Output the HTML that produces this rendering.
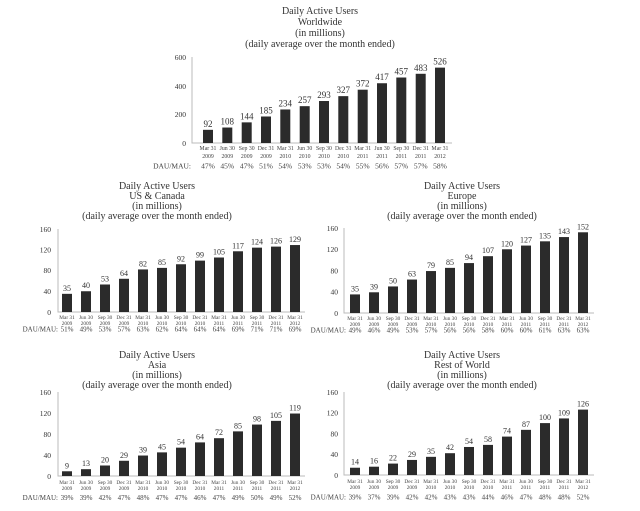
<!DOCTYPE html>
<html><head><meta charset="utf-8"><style>
html,body{margin:0;padding:0;background:#fff}
svg{display:block;font-family:"Liberation Serif",serif;fill:#333}
.t{font-size:10px;text-anchor:middle}
.v{font-size:8px;text-anchor:middle}
.vw{font-size:9px;text-anchor:middle}
.y{font-size:7.5px;text-anchor:end}
.d{font-size:5.3px;text-anchor:middle;fill:#444}
.m{font-size:7px;text-anchor:middle;fill:#444}
.ml{font-size:7px;text-anchor:end;fill:#444}
.ax{stroke:#bbb;stroke-width:1;fill:none}
.b{fill:#2b2b2b}
</style></head><body>
<svg width="640" height="511" viewBox="0 0 640 511" xmlns="http://www.w3.org/2000/svg">
<!-- Worldwide -->
<text class="t" x="320" y="14">Daily Active Users</text>
<text class="t" x="320" y="25">Worldwide</text>
<text class="t" x="320" y="36">(in millions)</text>
<text class="t" x="320" y="47">(daily average over the month ended)</text>
<path class="ax" d="M192 57V143H452"/>
<text class="y" x="186" y="146">0</text><text class="y" x="186" y="117">200</text><text class="y" x="186" y="89">400</text><text class="y" x="186" y="60">600</text>
<g transform="translate(0,143) scale(1,-0.1433)" class="b">
<rect x="203" y="0" width="10" height="92"/><rect x="222.3" y="0" width="10" height="108"/><rect x="241.7" y="0" width="10" height="144"/><rect x="261" y="0" width="10" height="185"/><rect x="280.3" y="0" width="10" height="234"/><rect x="299.7" y="0" width="10" height="257"/><rect x="319" y="0" width="10" height="293"/><rect x="338.3" y="0" width="10" height="327"/><rect x="357.7" y="0" width="10" height="372"/><rect x="377" y="0" width="10" height="417"/><rect x="396.3" y="0" width="10" height="457"/><rect x="415.7" y="0" width="10" height="483"/><rect x="435" y="0" width="10" height="526"/>
</g>
<text class="vw" x="208" y="126.8">92</text><text class="vw" x="227.3" y="124.5">108</text><text class="vw" x="246.7" y="119.4">144</text><text class="vw" x="266" y="113.5">185</text><text class="vw" x="285.3" y="106.5">234</text><text class="vw" x="304.7" y="103.2">257</text><text class="vw" x="324" y="98">293</text><text class="vw" x="343.3" y="93.1">327</text><text class="vw" x="362.7" y="86.7">372</text><text class="vw" x="382" y="80.2">417</text><text class="vw" x="401.3" y="74.5">457</text><text class="vw" x="420.7" y="70.8">483</text><text class="vw" x="440" y="64.6">526</text>
<g class="d" style="font-size:5.8px">
<text x="208" y="150">Mar 31</text><text x="227.3" y="150">Jun 30</text><text x="246.7" y="150">Sep 30</text><text x="266" y="150">Dec 31</text><text x="285.3" y="150">Mar 31</text><text x="304.7" y="150">Jun 30</text><text x="324" y="150">Sep 30</text><text x="343.3" y="150">Dec 31</text><text x="362.7" y="150">Mar 31</text><text x="382" y="150">Jun 30</text><text x="401.3" y="150">Sep 30</text><text x="420.7" y="150">Dec 31</text><text x="440" y="150">Mar 31</text>
<text x="208" y="158">2009</text><text x="227.3" y="158">2009</text><text x="246.7" y="158">2009</text><text x="266" y="158">2009</text><text x="285.3" y="158">2010</text><text x="304.7" y="158">2010</text><text x="324" y="158">2010</text><text x="343.3" y="158">2010</text><text x="362.7" y="158">2011</text><text x="382" y="158">2011</text><text x="401.3" y="158">2011</text><text x="420.7" y="158">2011</text><text x="440" y="158">2012</text>
</g>
<g class="m" style="font-size:7.5px">
<text class="ml" style="font-size:7.5px" x="191" y="168.5">DAU/MAU:</text>
<text x="208" y="168.5">47%</text><text x="227.3" y="168.5">45%</text><text x="246.7" y="168.5">47%</text><text x="266" y="168.5">51%</text><text x="285.3" y="168.5">54%</text><text x="304.7" y="168.5">53%</text><text x="324" y="168.5">53%</text><text x="343.3" y="168.5">54%</text><text x="362.7" y="168.5">55%</text><text x="382" y="168.5">56%</text><text x="401.3" y="168.5">57%</text><text x="420.7" y="168.5">57%</text><text x="440" y="168.5">58%</text>
</g>

<!-- US & Canada -->
<text class="t" x="157" y="189">Daily Active Users</text>
<text class="t" x="157" y="199">US &amp; Canada</text>
<text class="t" x="157" y="209">(in millions)</text>
<text class="t" x="157" y="219">(daily average over the month ended)</text>
<path class="ax" d="M58 229V312H305"/>
<text class="y" x="51" y="315">0</text><text class="y" x="51" y="294">40</text><text class="y" x="51" y="273">80</text><text class="y" x="51" y="252.5">120</text><text class="y" x="51" y="232">160</text>
<g transform="translate(0,312) scale(1,-0.519)" class="b">
<rect x="62" y="0" width="10" height="35"/><rect x="81" y="0" width="10" height="40"/><rect x="100" y="0" width="10" height="53"/><rect x="119" y="0" width="10" height="64"/><rect x="138" y="0" width="10" height="82"/><rect x="157" y="0" width="10" height="85"/><rect x="176" y="0" width="10" height="92"/><rect x="195" y="0" width="10" height="99"/><rect x="214" y="0" width="10" height="105"/><rect x="233" y="0" width="10" height="117"/><rect x="252" y="0" width="10" height="124"/><rect x="271" y="0" width="10" height="126"/><rect x="290" y="0" width="10" height="129"/>
</g>
<text class="v" x="67" y="290.8">35</text><text class="v" x="86" y="288.2">40</text><text class="v" x="105" y="281.5">53</text><text class="v" x="124" y="275.8">64</text><text class="v" x="143" y="266.4">82</text><text class="v" x="162" y="264.9">85</text><text class="v" x="181" y="261.3">92</text><text class="v" x="200" y="257.6">99</text><text class="v" x="219" y="254.5">105</text><text class="v" x="238" y="248.3">117</text><text class="v" x="257" y="244.6">124</text><text class="v" x="276" y="243.6">126</text><text class="v" x="295" y="242">129</text>
<g class="d">
<text x="67" y="319">Mar 31</text><text x="86" y="319">Jun 30</text><text x="105" y="319">Sep 30</text><text x="124" y="319">Dec 31</text><text x="143" y="319">Mar 31</text><text x="162" y="319">Jun 30</text><text x="181" y="319">Sep 30</text><text x="200" y="319">Dec 31</text><text x="219" y="319">Mar 31</text><text x="238" y="319">Jun 30</text><text x="257" y="319">Sep 30</text><text x="276" y="319">Dec 31</text><text x="295" y="319">Mar 31</text>
<text x="67" y="325">2009</text><text x="86" y="325">2009</text><text x="105" y="325">2009</text><text x="124" y="325">2009</text><text x="143" y="325">2010</text><text x="162" y="325">2010</text><text x="181" y="325">2010</text><text x="200" y="325">2010</text><text x="219" y="325">2011</text><text x="238" y="325">2011</text><text x="257" y="325">2011</text><text x="276" y="325">2011</text><text x="295" y="325">2012</text>
</g>
<g class="m">
<text class="ml" x="58" y="331.5">DAU/MAU:</text>
<text x="67" y="331.5">51%</text><text x="86" y="331.5">49%</text><text x="105" y="331.5">53%</text><text x="124" y="331.5">57%</text><text x="143" y="331.5">63%</text><text x="162" y="331.5">62%</text><text x="181" y="331.5">64%</text><text x="200" y="331.5">64%</text><text x="219" y="331.5">64%</text><text x="238" y="331.5">69%</text><text x="257" y="331.5">71%</text><text x="276" y="331.5">71%</text><text x="295" y="331.5">69%</text>
</g>

<!-- Europe -->
<text class="t" x="462" y="189">Daily Active Users</text>
<text class="t" x="462" y="199">Europe</text>
<text class="t" x="462" y="209">(in millions)</text>
<text class="t" x="462" y="219">(daily average over the month ended)</text>
<path class="ax" d="M344 228V313H594"/>
<text class="y" x="338" y="316">0</text><text class="y" x="338" y="294.5">40</text><text class="y" x="338" y="273.5">80</text><text class="y" x="338" y="252">120</text><text class="y" x="338" y="231">160</text>
<g transform="translate(0,313) scale(1,-0.531)" class="b">
<rect x="350" y="0" width="10" height="35"/><rect x="369" y="0" width="10" height="39"/><rect x="388" y="0" width="10" height="50"/><rect x="407" y="0" width="10" height="63"/><rect x="426" y="0" width="10" height="79"/><rect x="445" y="0" width="10" height="85"/><rect x="464" y="0" width="10" height="94"/><rect x="483" y="0" width="10" height="107"/><rect x="502" y="0" width="10" height="120"/><rect x="521" y="0" width="10" height="127"/><rect x="540" y="0" width="10" height="135"/><rect x="559" y="0" width="10" height="143"/><rect x="578" y="0" width="10" height="152"/>
</g>
<text class="v" x="355" y="291.4">35</text><text class="v" x="374" y="289.3">39</text><text class="v" x="393" y="283.4">50</text><text class="v" x="412" y="276.5">63</text><text class="v" x="431" y="268.1">79</text><text class="v" x="450" y="264.9">85</text><text class="v" x="469" y="260.1">94</text><text class="v" x="488" y="253.2">107</text><text class="v" x="507" y="246.3">120</text><text class="v" x="526" y="242.6">127</text><text class="v" x="545" y="238.3">135</text><text class="v" x="564" y="234.1">143</text><text class="v" x="583" y="229.3">152</text>
<g class="d">
<text x="355" y="320">Mar 31</text><text x="374" y="320">Jun 30</text><text x="393" y="320">Sep 30</text><text x="412" y="320">Dec 31</text><text x="431" y="320">Mar 31</text><text x="450" y="320">Jun 30</text><text x="469" y="320">Sep 30</text><text x="488" y="320">Dec 31</text><text x="507" y="320">Mar 31</text><text x="526" y="320">Jun 30</text><text x="545" y="320">Sep 30</text><text x="564" y="320">Dec 31</text><text x="583" y="320">Mar 31</text>
<text x="355" y="326">2009</text><text x="374" y="326">2009</text><text x="393" y="326">2009</text><text x="412" y="326">2009</text><text x="431" y="326">2010</text><text x="450" y="326">2010</text><text x="469" y="326">2010</text><text x="488" y="326">2010</text><text x="507" y="326">2011</text><text x="526" y="326">2011</text><text x="545" y="326">2011</text><text x="564" y="326">2011</text><text x="583" y="326">2012</text>
</g>
<g class="m">
<text class="ml" x="346" y="332.5">DAU/MAU:</text>
<text x="355" y="332.5">49%</text><text x="374" y="332.5">46%</text><text x="393" y="332.5">49%</text><text x="412" y="332.5">53%</text><text x="431" y="332.5">57%</text><text x="450" y="332.5">56%</text><text x="469" y="332.5">56%</text><text x="488" y="332.5">58%</text><text x="507" y="332.5">60%</text><text x="526" y="332.5">60%</text><text x="545" y="332.5">61%</text><text x="564" y="332.5">63%</text><text x="583" y="332.5">63%</text>
</g>

<!-- Asia -->
<text class="t" x="157" y="358">Daily Active Users</text>
<text class="t" x="157" y="368">Asia</text>
<text class="t" x="157" y="378">(in millions)</text>
<text class="t" x="157" y="388">(daily average over the month ended)</text>
<path class="ax" d="M58 392V476H305"/>
<text class="y" x="51" y="479">0</text><text class="y" x="51" y="458">40</text><text class="y" x="51" y="437">80</text><text class="y" x="51" y="416">120</text><text class="y" x="51" y="395">160</text>
<g transform="translate(0,476) scale(1,-0.525)" class="b">
<rect x="62" y="0" width="10" height="9"/><rect x="81" y="0" width="10" height="13"/><rect x="100" y="0" width="10" height="20"/><rect x="119" y="0" width="10" height="29"/><rect x="138" y="0" width="10" height="39"/><rect x="157" y="0" width="10" height="45"/><rect x="176" y="0" width="10" height="54"/><rect x="195" y="0" width="10" height="64"/><rect x="214" y="0" width="10" height="72"/><rect x="233" y="0" width="10" height="85"/><rect x="252" y="0" width="10" height="98"/><rect x="271" y="0" width="10" height="105"/><rect x="290" y="0" width="10" height="119"/>
</g>
<text class="v" x="67" y="468.3">9</text><text class="v" x="86" y="466.2">13</text><text class="v" x="105" y="462.5">20</text><text class="v" x="124" y="457.8">29</text><text class="v" x="143" y="452.5">39</text><text class="v" x="162" y="449.4">45</text><text class="v" x="181" y="444.6">54</text><text class="v" x="200" y="439.4">64</text><text class="v" x="219" y="435.2">72</text><text class="v" x="238" y="428.4">85</text><text class="v" x="257" y="421.6">98</text><text class="v" x="276" y="417.9">105</text><text class="v" x="295" y="410.5">119</text>
<g class="d">
<text x="67" y="484">Mar 31</text><text x="86" y="484">Jun 30</text><text x="105" y="484">Sep 30</text><text x="124" y="484">Dec 31</text><text x="143" y="484">Mar 31</text><text x="162" y="484">Jun 30</text><text x="181" y="484">Sep 30</text><text x="200" y="484">Dec 31</text><text x="219" y="484">Mar 31</text><text x="238" y="484">Jun 30</text><text x="257" y="484">Sep 30</text><text x="276" y="484">Dec 31</text><text x="295" y="484">Mar 31</text>
<text x="67" y="490">2009</text><text x="86" y="490">2009</text><text x="105" y="490">2009</text><text x="124" y="490">2009</text><text x="143" y="490">2010</text><text x="162" y="490">2010</text><text x="181" y="490">2010</text><text x="200" y="490">2010</text><text x="219" y="490">2011</text><text x="238" y="490">2011</text><text x="257" y="490">2011</text><text x="276" y="490">2011</text><text x="295" y="490">2012</text>
</g>
<g class="m">
<text class="ml" x="58" y="500">DAU/MAU:</text>
<text x="67" y="500">39%</text><text x="86" y="500">39%</text><text x="105" y="500">42%</text><text x="124" y="500">47%</text><text x="143" y="500">48%</text><text x="162" y="500">47%</text><text x="181" y="500">47%</text><text x="200" y="500">46%</text><text x="219" y="500">47%</text><text x="238" y="500">49%</text><text x="257" y="500">50%</text><text x="276" y="500">49%</text><text x="295" y="500">52%</text>
</g>

<!-- Rest of World -->
<text class="t" x="462" y="358">Daily Active Users</text>
<text class="t" x="462" y="368">Rest of World</text>
<text class="t" x="462" y="378">(in millions)</text>
<text class="t" x="462" y="388">(daily average over the month ended)</text>
<path class="ax" d="M344 392V475H594"/>
<text class="y" x="338" y="478">0</text><text class="y" x="338" y="457">40</text><text class="y" x="338" y="436.5">80</text><text class="y" x="338" y="415.5">120</text><text class="y" x="338" y="395">160</text>
<g transform="translate(0,475) scale(1,-0.519)" class="b">
<rect x="350" y="0" width="10" height="14"/><rect x="369" y="0" width="10" height="16"/><rect x="388" y="0" width="10" height="22"/><rect x="407" y="0" width="10" height="29"/><rect x="426" y="0" width="10" height="35"/><rect x="445" y="0" width="10" height="42"/><rect x="464" y="0" width="10" height="54"/><rect x="483" y="0" width="10" height="58"/><rect x="502" y="0" width="10" height="74"/><rect x="521" y="0" width="10" height="87"/><rect x="540" y="0" width="10" height="100"/><rect x="559" y="0" width="10" height="109"/><rect x="578" y="0" width="10" height="126"/>
</g>
<text class="v" x="355" y="464.7">14</text><text class="v" x="374" y="463.7">16</text><text class="v" x="393" y="460.6">22</text><text class="v" x="412" y="456.9">29</text><text class="v" x="431" y="453.8">35</text><text class="v" x="450" y="450.2">42</text><text class="v" x="469" y="444">54</text><text class="v" x="488" y="441.9">58</text><text class="v" x="507" y="433.6">74</text><text class="v" x="526" y="426.8">87</text><text class="v" x="545" y="420.1">100</text><text class="v" x="564" y="415.4">109</text><text class="v" x="583" y="406.6">126</text>
<g class="d">
<text x="355" y="483">Mar 31</text><text x="374" y="483">Jun 30</text><text x="393" y="483">Sep 30</text><text x="412" y="483">Dec 31</text><text x="431" y="483">Mar 31</text><text x="450" y="483">Jun 30</text><text x="469" y="483">Sep 30</text><text x="488" y="483">Dec 31</text><text x="507" y="483">Mar 31</text><text x="526" y="483">Jun 30</text><text x="545" y="483">Sep 30</text><text x="564" y="483">Dec 31</text><text x="583" y="483">Mar 31</text>
<text x="355" y="489">2009</text><text x="374" y="489">2009</text><text x="393" y="489">2009</text><text x="412" y="489">2009</text><text x="431" y="489">2010</text><text x="450" y="489">2010</text><text x="469" y="489">2010</text><text x="488" y="489">2010</text><text x="507" y="489">2011</text><text x="526" y="489">2011</text><text x="545" y="489">2011</text><text x="564" y="489">2011</text><text x="583" y="489">2012</text>
</g>
<g class="m">
<text class="ml" x="346" y="499.5">DAU/MAU:</text>
<text x="355" y="499.5">39%</text><text x="374" y="499.5">37%</text><text x="393" y="499.5">39%</text><text x="412" y="499.5">42%</text><text x="431" y="499.5">42%</text><text x="450" y="499.5">43%</text><text x="469" y="499.5">43%</text><text x="488" y="499.5">44%</text><text x="507" y="499.5">46%</text><text x="526" y="499.5">47%</text><text x="545" y="499.5">48%</text><text x="564" y="499.5">48%</text><text x="583" y="499.5">52%</text>
</g>
</svg>
</body></html>
